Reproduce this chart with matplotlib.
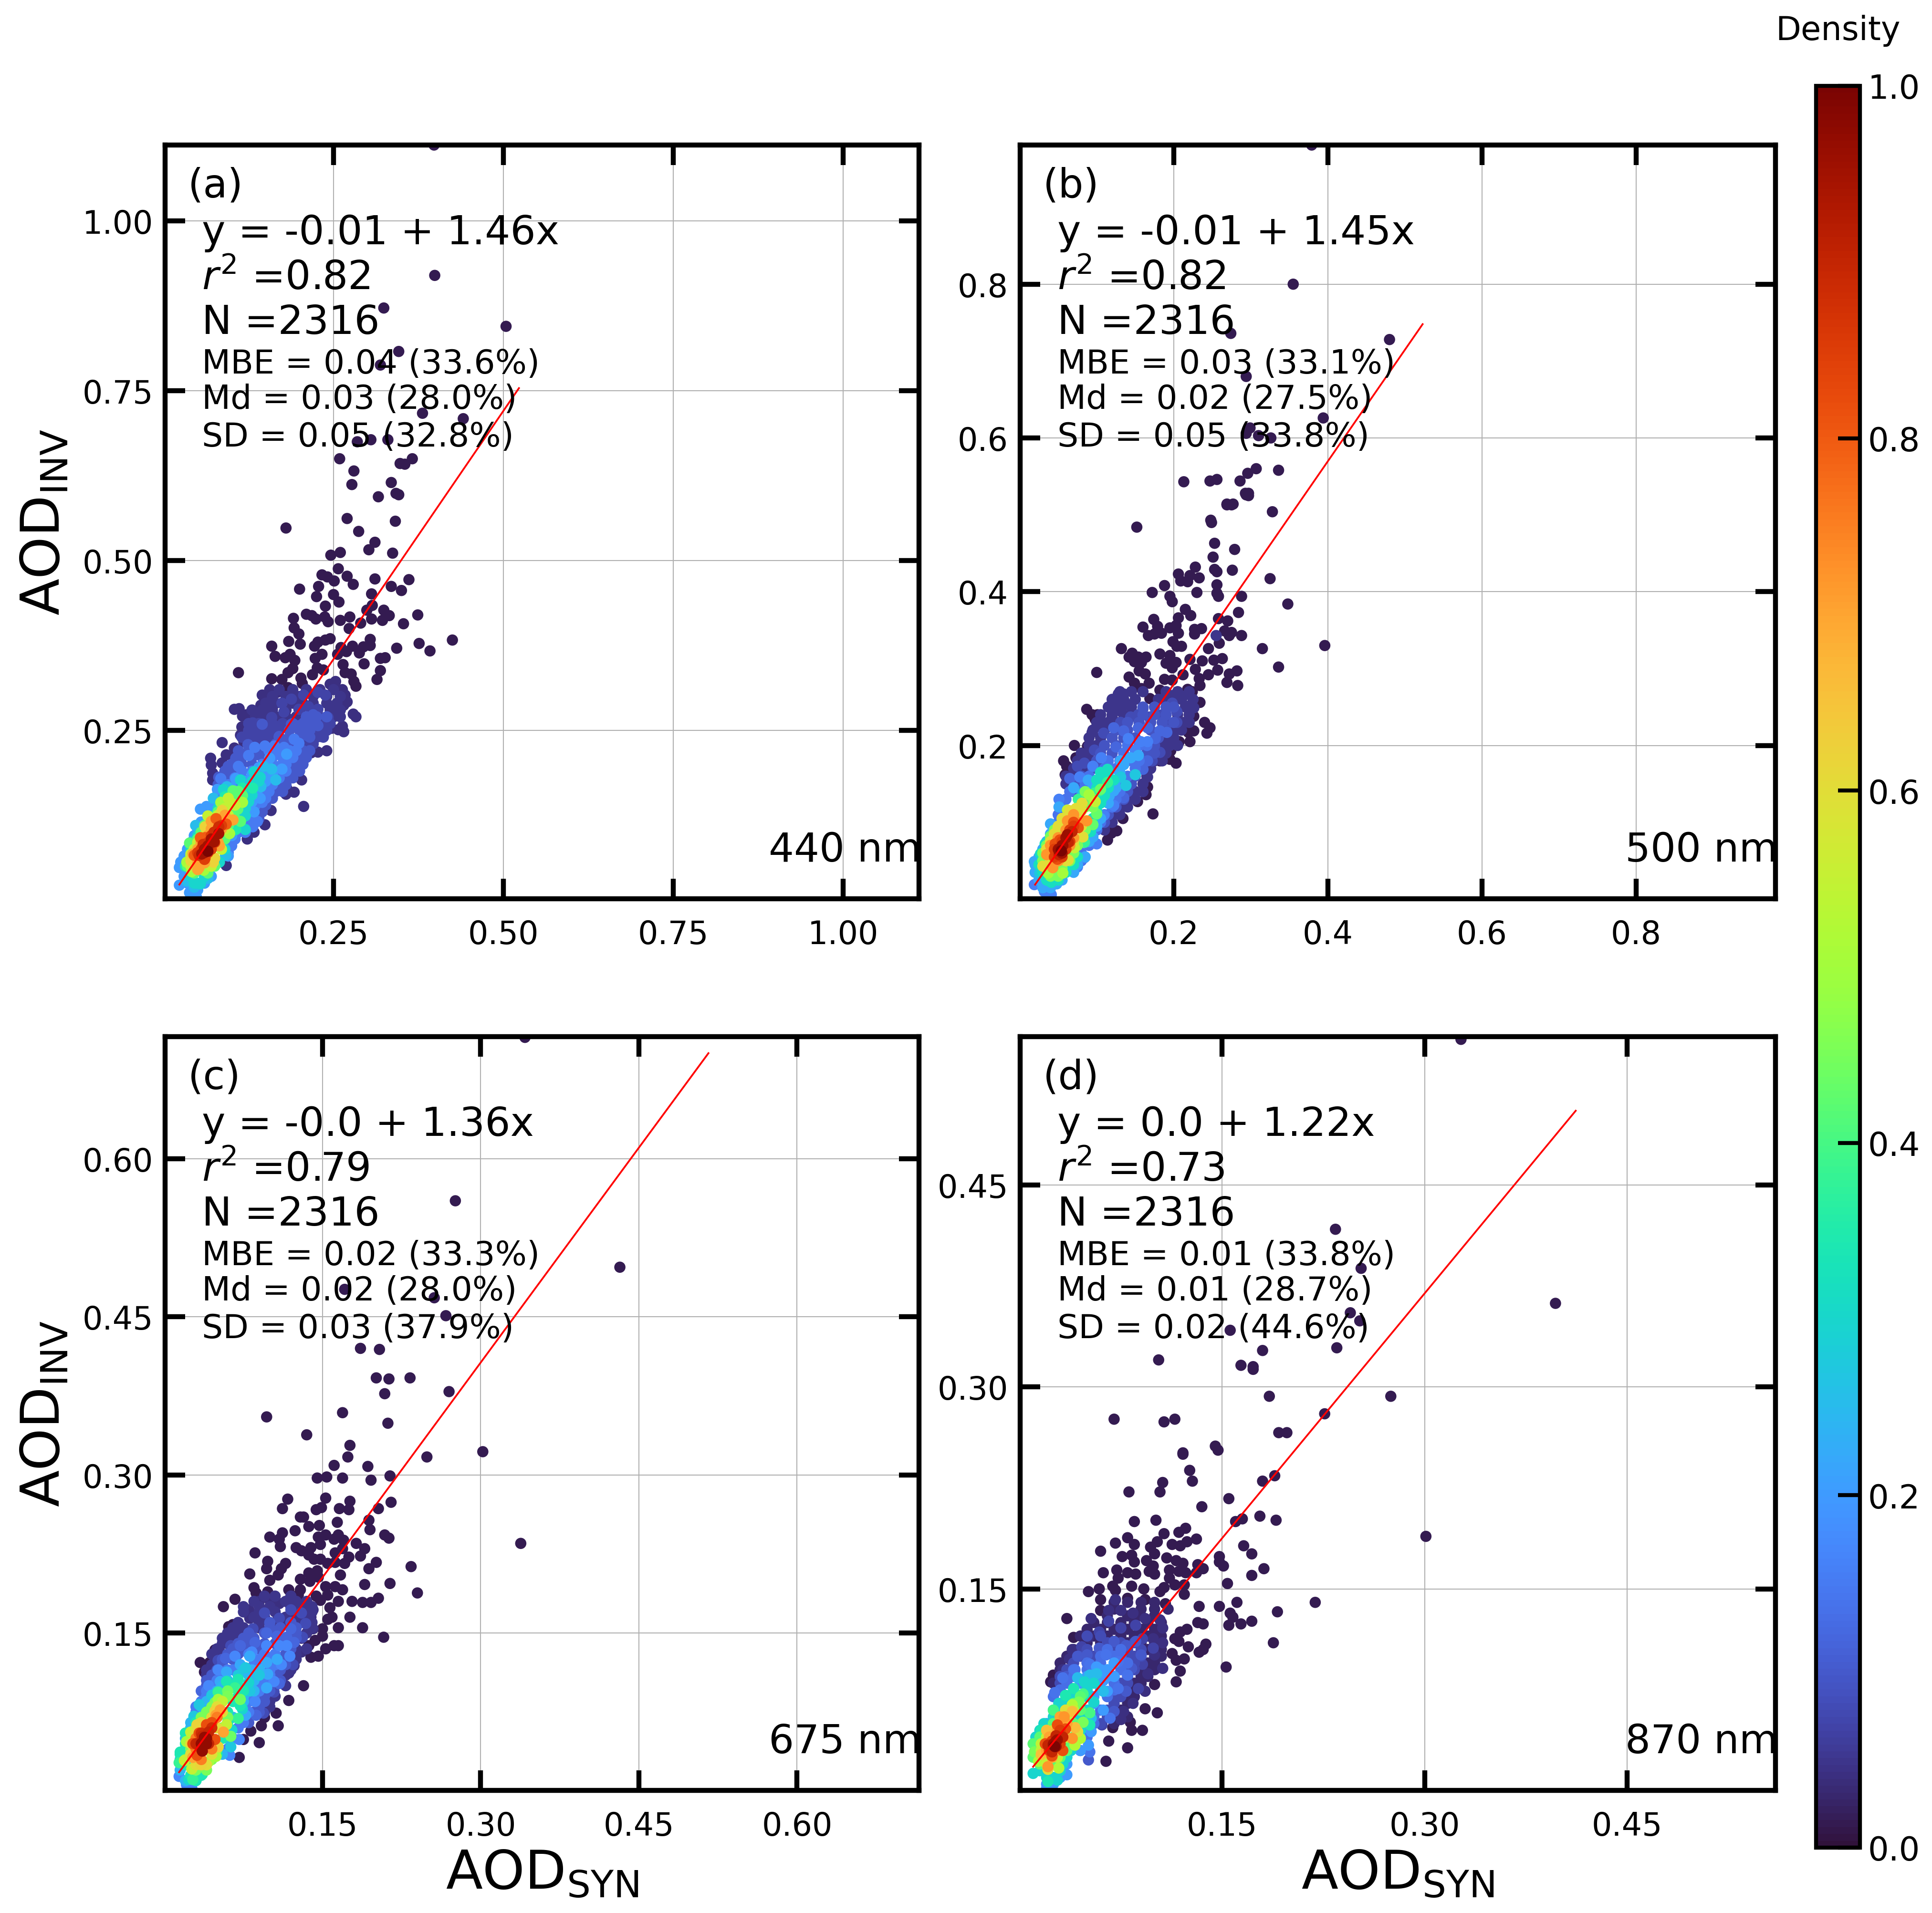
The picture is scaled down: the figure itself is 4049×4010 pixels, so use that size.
import matplotlib
matplotlib.use("Agg")
import matplotlib.pyplot as plt
from matplotlib.cm import ScalarMappable
from matplotlib.colors import Normalize

# points, grouped by density colour (low to high)
a_levels = [0.015, 0.04, 0.07, 0.1, 0.15, 0.2, 0.25, 0.3, 0.35, 0.42, 0.5, 0.55, 0.62, 0.7, 0.8, 0.88, 0.95, 1.0]
a_groups = [
    [(.398,1.112),(.399,.920),(.324,.872),(.504,.845),(.346,.808),(.319,.788),(.381,.717),(.441,.709),(.285,.675),(.305,.678),(.330,.678),
     (.259,.650),(.280,.632),(.348,.643),(.355,.642),(.366,.650),(.277,.612),(.335,.615),(.316,.594),(.342,.599),(.346,.597),(.270,.562),
     (.341,.558),(.287,.543),(.311,.527),(.302,.516),(.337,.511),(.180,.548),(.246,.508),(.260,.512),(.257,.488),(.233,.479),(.241,.476),
     (.251,.470),(.270,.477),(.279,.465),(.311,.473),(.361,.472),(.335,.462),(.350,.456),(.200,.458),(.228,.462),(.225,.447),(.250,.450),
     (.258,.439),(.238,.433),(.306,.451),(.307,.434),(.210,.421),(.218,.419),(.224,.414),(.191,.415),(.192,.401),(.237,.417),(.242,.410),
     (.260,.412),(.274,.417),(.324,.427),(.332,.419),(.322,.412),(.353,.407),(.374,.420),(.299,.427),(.306,.414),(.290,.408),(.273,.400),
     (.199,.392),(.184,.381),(.201,.377),(.159,.374),(.164,.359),(.245,.385),(.238,.383),(.227,.380),(.222,.374),(.425,.383),(.376,.378),
     (.392,.367),(.343,.371),(.304,.384),(.304,.375),(.294,.373),(.288,.364),(.278,.374),(.269,.366),(.261,.372),(.233,.362),(.223,.356),
     (.256,.362),(.186,.362),(.179,.357),(.193,.353),(.319,.356),(.326,.357),(.295,.348),(.264,.347),(.319,.338),(.314,.325),(.110,.335),
     (.190,.341),(.183,.335),(.159,.326),(.174,.325),(.202,.327),(.204,.319),(.226,.342),(.235,.339),(.219,.332),(.267,.335),(.276,.333),
     (.280,.322),(.283,.315),(.183,.313)],
    [(.156,.310),(.145,.302),(.167,.306),(.143,.287),(.156,.290),(.122,.273),(.116,.271),(.104,.281),(.111,.282),(.131,.269),(.142,.273),
     (.115,.255),(.113,.243),(.118,.233),(.086,.232),(.104,.224),(.092,.214),(.102,.213),(.069,.209),(.070,.199),(.086,.202),(.072,.187),
     (.072,.177),(.227,.218),(.240,.220),(.217,.217),(.231,.241),(.220,.234),(.247,.253),(.257,.251),(.265,.248),(.263,.256),(.279,.274),
     (.283,.270),(.270,.292),(.256,.285),(.265,.287),(.263,.310),(.267,.302),(.245,.318),(.253,.322),(.203,.177),(.193,.187),(.192,.159),
     (.181,.165),(.180,.156),(.206,.138),(.158,.132),(.149,.111),(.133,.100),(.123,.090),(.092,.051)],
    [(.174,.290),(.188,.296),(.206,.302),(.227,.306),(.238,.302),(.177,.277),(.159,.269),(.131,.261),(.152,.257),(.227,.281),(.242,.269),
     (.213,.285),(.231,.269),(.199,.281),(.210,.213),(.199,.205),(.224,.261),(.124,.245),(.135,.249),(.217,.237)],
    [(.220,.273),(.199,.257),(.188,.259),(.227,.257),(.206,.261),(.145,.259),(.170,.241),(.210,.243),(.124,.229),(.106,.209),(.095,.197),
     (.113,.197),(.188,.205),(.156,.169),(.163,.161),(.149,.140),(.081,.181)],
    [(.192,.237),(.177,.225),(.149,.227),(.134,.225),(.163,.227),(.199,.231),(.184,.213),(.170,.197),(.125,.213),(.110,.197),(.084,.179),
     (.145,.144),(.138,.116),(.131,.108),(.120,.100)],
    [(.181,.215),(.156,.209),(.174,.193),(.106,.179),(.079,.163),(.063,.138),(.054,.134),(.142,.150),(.133,.130),(.025,.056),(.023,.022),
     (.038,.011),(.048,.005),(.023,.048)],
    [(.159,.193),(.147,.197),(.143,.167),(.165,.177),(.091,.066),(.093,.167),(.073,.150),(.047,.110),(.034,.028),(.045,.019),(.065,.032)],
    [(.133,.189),(.142,.181),(.113,.177),(.088,.163),(.120,.124),(.120,.104),(.043,.086),(.082,.056),(.054,.024)],
    [(.131,.165),(.116,.165),(.090,.152),(.106,.104),(.032,.050)],
    [(.116,.154),(.102,.161),(.109,.134),(.113,.116),(.038,.084)],
    [(.116,.144),(.084,.144),(.097,.098),(.034,.056),(.041,.042),(.059,.044)],
    [(.098,.144),(.065,.124),(.040,.068)],
    [(.086,.132),(.061,.108),(.075,.062),(.073,.056),(.040,.058)],
    [(.102,.118),(.070,.116),(.052,.048),(.043,.068),(.082,.080)],
    [(.092,.112),(.077,.120),(.061,.092),(.054,.092),(.061,.062),(.045,.066)],
    [(.081,.108),(.074,.100),(.058,.082),(.068,.082),(.052,.066)],
    [(.081,.098),(.074,.086),(.064,.078),(.056,.068)],
    [(.065,.072)],
]
# the packed band, read row by row: (y, [x, ...]) per density colour
a_band_levels = [0.05, 0.07, 0.1, 0.15, 0.2, 0.3, 0.42, 0.55, 0.7, 0.85, 0.95]
a_band = [
    [(.31,[.17,.19,.21,.23,.25]),(.30,[.16,.18,.20,.22,.24,.26]),(.29,[.15,.165,.19,.205,.22,.24,.255]),
     (.28,[.13,.145,.16,.18,.20,.245,.26]),(.27,[.135,.15,.165,.18,.195,.21,.25,.26])],
    [(.26,[.125,.14,.16,.175,.235,.245]),(.25,[.125,.14,.155,.17,.23,.24]),(.24,[.115,.13,.145,.16,.225,.235]),(.23,[.125,.14,.155,.21,.22])],
    [(.27,[.21,.225,.24]),(.26,[.19,.215]),(.25,[.185,.2,.215]),(.24,[.17,.185,.2,.215]),(.23,[.165,.18,.195]),(.22,[.11,.125,.14,.205,.215]),
     (.21,[.115,.13,.145,.2,.21]),(.20,[.1,.115,.13,.195,.205]),(.19,[.09,.105,.19,.2]),(.18,[.085,.095,.185,.19]),(.17,[.08,.17,.18]),
     (.16,[.08,.165,.175]),(.15,[.15,.16]),(.14,[.14,.15]),(.13,[.135,.145]),(.12,[.13,.14])],
    [(.22,[.155,.17,.185,.195]),(.21,[.16,.175,.19]),(.20,[.145,.16,.18]),(.19,[.115,.13,.17,.18]),(.18,[.105,.115,.165,.17]),
     (.17,[.095,.105,.155,.16]),(.16,[.09,.15,.155]),(.15,[.085,.14,.15]),(.14,[.135]),(.13,[.125]),(.12,[.12,.13]),(.11,[.115,.125]),
     (.10,[.11,.12]),(.09,[.105]),(.08,[.10,.09]),(.07,[.095])],
    [(.195,[.14,.155]),(.185,[.13,.145,.16]),(.175,[.12,.15]),(.165,[.1,.14]),(.155,[.095,.135]),(.145,[.08,.13]),(.135,[.07,.125]),
     (.125,[.065,.115]),(.115,[.055,.11]),(.105,[.05,.105]),(.095,[.045,.1]),(.085,[.04]),(.075,[.035]),(.065,[.03,.095]),(.045,[.03]),
     (.035,[.03,.07]),(.025,[.035,.06]),(.015,[.05])],
    [(.175,[.13,.14]),(.165,[.125]),(.155,[.12,.13]),(.145,[.125]),(.135,[.08,.12]),(.125,[.075,.11]),(.115,[.065,.105]),(.105,[.06,.1]),
     (.095,[.05]),(.085,[.05]),(.075,[.04,.09]),(.055,[.035]),(.035,[.04,.06]),(.025,[.045,.05])],
    [(.16,[.105,.11]),(.15,[.095,.105]),(.14,[.09,.1]),(.13,[.08,.1]),(.12,[.07,.105]),(.11,[.06,.095]),(.10,[.055]),(.09,[.05,.09]),
     (.08,[.045]),(.05,[.035,.075]),(.04,[.045,.065])],
    [(.15,[.095]),(.14,[.105]),(.135,[.09]),(.125,[.08,.095]),(.115,[.07]),(.105,[.065,.09]),(.095,[.06]),(.085,[.05]),(.075,[.045,.085]),
     (.065,[.04]),(.05,[.07,.04])],
    [(.125,[.09]),(.115,[.08,.09]),(.105,[.07,.085]),(.095,[.065]),(.085,[.055,.08]),(.075,[.05]),(.065,[.055]),(.055,[.05,.06]),(.045,[.05])],
    [(.11,[.085]),(.105,[.08]),(.095,[.075,.07]),(.085,[.065,.075]),(.075,[.055,.07]),(.07,[.05,.065]),(.06,[.06])],
    [(.09,[.07]),(.08,[.065]),(.075,[.06]),(.07,[.06])],
]

b_levels = [0.015, 0.05, 0.08, 0.12, 0.16, 0.22, 0.27, 0.32, 0.38, 0.43, 0.5, 0.55, 0.6, 0.72, 0.82, 0.9, 0.96, 1.0]
b_groups = [
    [(.379,.981),(.355,.800),(.274,.736),(.480,.728),(.294,.680),(.394,.626),(.299,.613),(.294,.606),(.310,.603),(.326,.600),(.307,.560),
     (.336,.558),(.296,.554),(.256,.546),(.286,.544),(.277,.514),(.269,.514),(.248,.493),(.293,.528),(.294,.526),(.328,.504),
     (.213,.543),(.247,.544),(.297,.528),(.297,.525),(.269,.513),(.275,.513),(.249,.490),(.152,.484),(.253,.463),(.279,.455),(.251,.445),
     (.228,.432),(.253,.429),(.256,.426),(.276,.428),(.206,.423),(.325,.417),(.209,.414),(.221,.421),(.233,.418),(.218,.413),(.256,.409),
     (.188,.408),(.172,.399),(.230,.399),(.256,.398),(.258,.394),(.195,.394),(.198,.387),(.288,.394),(.348,.384),(.215,.377),(.222,.369),
     (.284,.373),(.206,.366),(.258,.365),(.270,.362),(.174,.364),(.160,.354),(.179,.355),(.195,.353),(.203,.356),(.206,.346),(.167,.343),
     (.184,.346),(.175,.345),(.227,.345),(.227,.351),(.236,.352),(.266,.349),(.275,.347),(.288,.343),(.272,.343),(.199,.335),(.210,.329),
     (.204,.329),(.259,.333),(.245,.326),(.396,.330),(.315,.326),(.132,.326),(.146,.320),(.142,.315),(.164,.315),(.182,.319),(.195,.317),
     (.154,.315),(.149,.309),(.158,.308),(.190,.307),(.203,.308),(.221,.312),(.237,.310),(.263,.313),(.252,.311),(.336,.302),(.257,.298),
     (.282,.297),(.228,.299),(.100,.295),(.155,.297),(.163,.293),(.198,.301),(.272,.293),(.269,.282),(.212,.292),(.245,.292),(.142,.289),
     (.188,.286),(.198,.285),(.233,.287),(.283,.278),(.234,.278),(.149,.281),(.168,.281),(.158,.274),(.182,.272),(.218,.273),(.224,.270),
     (.169,.261),(.234,.256),(.087,.247),(.101,.240),(.094,.240),(.098,.234),(.240,.230),(.247,.223),(.243,.216),(.226,.219),(.219,.217),
     (.226,.238),(.207,.205),(.221,.205),(.203,.177),(.195,.182),(.182,.180),(.196,.193),(.071,.200),(.088,.199),(.073,.184),(.057,.180),
     (.061,.173),(.059,.162),(.173,.111),(.134,.105),(.126,.089),(.119,.086),(.114,.077),(.164,.136),(.166,.146),(.153,.127)],
    [(.128,.267),(.135,.267),(.125,.258),(.142,.253),(.125,.248),(.132,.244),(.120,.237),(.111,.228),(.105,.224),(.094,.217),(.212,.264),
     (.199,.265),(.188,.262),(.217,.251),(.226,.249),(.214,.230),(.179,.184),(.166,.159),(.147,.141),(.131,.127),(.109,.095),(.255,.343)],
    [(.154,.240),(.160,.248),(.168,.237),(.144,.237),(.131,.230),(.109,.216),(.097,.194),(.185,.240),(.198,.255),(.204,.244),(.191,.230),
     (.204,.230),(.182,.191),(.172,.180),(.075,.173),(.084,.177)],
    [(.122,.223),(.135,.219),(.154,.223),(.166,.223),(.182,.219),(.191,.217),(.176,.209),(.125,.198),(.166,.180),(.160,.169),(.065,.157),
     (.135,.132),(.122,.123)],
    [(.141,.209),(.157,.205),(.166,.205),(.150,.194),(.106,.184),(.095,.173),(.078,.159),(.122,.122),(.109,.109),(.051,.130),(.100,.072),
     (.084,.054),(.075,.042),(.041,.006),(.032,.010),(.019,.019)],
    [(.154,.187),(.144,.184),(.131,.180),(.089,.155),(.070,.145),(.051,.120),(.040,.098),(.095,.081),(.116,.134),(.122,.141),(.019,.049),
     (.030,.020),(.048,.020)],
    [(.131,.159),(.150,.162),(.138,.148),(.082,.138),(.094,.098),(.026,.034),(.037,.024)],
    [(.114,.169),(.122,.155),(.106,.130),(.092,.088),(.033,.072),(.070,.045),(.041,.022),(.027,.059)],
    [(.114,.152),(.097,.138),(.103,.141),(.076,.130),(.084,.074)],
    [(.105,.143),(.100,.111),(.095,.097),(.040,.082)],
    [(.090,.136),(.049,.091),(.056,.034),(.037,.034)],
    [(.062,.116),(.098,.127),(.071,.067)],
    [(.081,.125),(.073,.118),(.082,.081),(.030,.043),(.063,.051)],
    [(.062,.102),(.087,.102),(.043,.041),(.035,.058)],
    [(.076,.093),(.070,.100),(.052,.077),(.046,.072),(.049,.052)],
    [(.068,.088),(.051,.058),(.063,.074)],
    [(.062,.084),(.056,.070),(.051,.063)],
    [(.054,.063)],
]
b_band_levels = [0.05, 0.09, 0.14, 0.22, 0.32, 0.45, 0.6, 0.72, 0.85, 0.95]
b_band = [
    [(.27,[.13,.145,.16,.19,.205,.22]),(.26,[.12,.135,.15,.18,.195,.21,.225]),(.25,[.115,.13,.145,.215,.225]),(.24,[.105,.12,.135,.15,.205,.22]),
     (.23,[.1,.115,.13,.21,.22]),(.22,[.095,.11,.2,.21]),(.21,[.09,.105,.19,.2]),(.2,[.09,.1,.185,.195,.205]),(.19,[.08,.09,.18,.19]),
     (.18,[.075,.09,.175,.185]),(.17,[.07,.085,.17]),(.16,[.06,.07,.165]),(.15,[.06,.16]),(.14,[.15,.16]),(.13,[.14,.15]),(.12,[.13,.14]),
     (.11,[.12,.13]),(.10,[.115,.12]),(.09,[.11])],
    [(.25,[.16,.175,.19,.2]),(.24,[.16,.175,.19]),(.23,[.14,.155,.17,.185,.2]),(.22,[.125,.14,.17,.19]),(.21,[.12,.135,.15,.18]),
     (.2,[.11,.125,.175]),(.19,[.105,.12,.165,.175]),(.18,[.1,.16]),(.17,[.095,.105,.155]),(.16,[.08,.15]),(.15,[.075,.145]),(.14,[.07,.14]),
     (.13,[.135]),(.12,[.125]),(.11,[.115]),(.10,[.11])],
    [(.2,[.14,.155,.165]),(.19,[.135,.15]),(.18,[.115,.13,.145,.155]),(.17,[.11,.125,.15]),(.16,[.09,.14]),(.15,[.085,.135]),(.14,[.065,.08,.13]),
     (.13,[.06,.125]),(.12,[.055,.12]),(.11,[.05,.11]),(.10,[.05,.105]),(.09,[.1]),(.08,[.09]),(.07,[.09]),(.06,[.08]),(.05,[.08])],
    [(.175,[.135]),(.165,[.115,.13]),(.155,[.105,.125]),(.145,[.095,.125]),(.135,[.09]),(.125,[.115]),(.115,[.065]),(.105,[.055,.105]),
     (.095,[.045,.1]),(.085,[.04]),(.075,[.035,.09]),(.065,[.03]),(.055,[.025,.085]),(.045,[.02,.075]),(.035,[.02,.07]),(.025,[.025,.055]),
     (.015,[.03,.04])],
    [(.165,[.105,.11]),(.155,[.1,.11]),(.145,[.1,.115]),(.135,[.09,.11]),(.125,[.09,.105]),(.115,[.075,.1]),(.105,[.07,.095]),(.095,[.06,.09]),
     (.085,[.05,.085]),(.075,[.04,.08]),(.055,[.03,.075]),(.045,[.025,.065]),(.035,[.03,.06]),(.025,[.035,.05])],
    [(.14,[.085]),(.13,[.095]),(.12,[.085,.095]),(.11,[.075]),(.1,[.06,.08]),(.09,[.045,.085]),(.08,[.04]),(.07,[.035,.075]),(.06,[.03,.07]),
     (.05,[.03,.065]),(.04,[.035,.055]),(.03,[.04,.05])],
    [(.115,[.065,.08]),(.105,[.055,.075]),(.095,[.05,.08]),(.085,[.045]),(.075,[.04,.07]),(.065,[.035]),(.05,[.04,.06])],
    [(.11,[.07]),(.1,[.065,.075]),(.09,[.06]),(.08,[.05,.07]),(.07,[.04,.065]),(.06,[.04]),(.05,[.05])],
    [(.095,[.07]),(.09,[.065]),(.08,[.06]),(.075,[.055,.065]),(.065,[.045,.06]),(.055,[.045,.055])],
    [(.08,[.06]),(.07,[.055]),(.065,[.05]),(.06,[.055])],
]

c_levels = [0.015, 0.04, 0.08, 0.12, 0.17, 0.22, 0.27, 0.3, 0.34, 0.38, 0.44, 0.5, 0.55, 0.62, 0.7, 0.82, 0.9, 0.97]
c_groups = [
    [(.342,.715),(.276,.560),(.432,.497),(.171,.476),(.256,.468),(.267,.451),(.186,.420),(.204,.419),(.213,.391),(.201,.392),(.233,.392),
     (.209,.377),(.270,.379),(.097,.355),(.169,.359),(.212,.349),(.135,.338),(.176,.328),(.302,.322),(.174,.317),(.249,.317),(.161,.309),
     (.193,.308),(.145,.297),(.154,.298),(.169,.297),(.196,.295),(.214,.299),(.117,.277),(.153,.278),(.112,.268),(.149,.269),(.144,.267),
     (.166,.268),(.176,.275),(.175,.267),(.203,.268),(.215,.274),(.129,.260),(.132,.260),(.194,.257),(.137,.251),(.147,.252),(.164,.255),
     (.195,.248),(.124,.247),(.112,.245),(.153,.243),(.100,.241),(.109,.239),(.146,.241),(.165,.243),(.161,.239),(.170,.238),(.209,.243),
     (.213,.240),(.182,.235),(.338,.235),(.110,.232),(.148,.234),(.125,.231),(.130,.228),(.139,.231),(.190,.230),(.169,.230),(.162,.226),
     (.086,.226),(.186,.223),(.175,.222),(.137,.224),(.142,.220),(.148,.220),(.098,.218),(.097,.211),(.115,.216),(.111,.211),(.201,.217),
     (.155,.216),(.162,.217),(.171,.216),(.194,.211),(.234,.213),(.081,.206),(.108,.205),(.137,.207),(.145,.209),(.167,.205),(.100,.200),
     (.129,.201),(.138,.199),(.146,.203),(.214,.197),(.190,.196),(.085,.193),(.118,.191),(.129,.191),(.153,.194),(.162,.194),(.169,.191),
     (.240,.188),(.087,.188),(.098,.189),(.127,.186),(.144,.185),(.155,.186),(.165,.180),(.203,.183),(.067,.182),(.056,.175),(.148,.181),
     (.178,.180),(.188,.179),(.196,.179),(.157,.174),(.159,.165),(.155,.163),(.176,.165),(.165,.155),(.188,.155),(.150,.154),(.208,.146),
     (.150,.147),(.143,.143),(.137,.138),(.153,.135),(.161,.138),(.165,.138),(.146,.128),(.139,.127),(.065,.158),(.061,.156),(.048,.134),
     (.034,.122),(.038,.113),(.043,.122),(.132,.100),(.118,.086),(.106,.074),(.095,.070),(.108,.062),(.092,.062),(.082,.057),(.090,.046),
     (.071,.032),(.075,.049)],
    [(.090,.180),(.100,.181),(.109,.178),(.080,.172),(.081,.164),(.123,.177),(.134,.177),(.141,.172),(.139,.165),(.056,.145),(.065,.147),
     (.141,.154),(.130,.132),(.123,.119),(.118,.112)],
    [(.095,.169),(.109,.164),(.120,.172),(.130,.169),(.134,.159),(.084,.154),(.100,.159),(.063,.138),(.051,.124),(.131,.146),(.122,.120),
     (.104,.094),(.094,.074)],
    [(.120,.154),(.116,.146),(.107,.147),(.097,.150),(.086,.141),(.072,.138),(.123,.141),(.058,.126),(.109,.102),(.087,.072),(.035,.095)],
    [(.097,.138),(.109,.138),(.116,.138),(.083,.132),(.067,.128),(.119,.128),(.111,.120),(.051,.115),(.042,.100),(.104,.104),(.086,.085),
     (.071,.049),(.062,.034),(.026,.003),(.021,.006),(.014,.014)],
    [(.081,.128),(.097,.122),(.107,.125),(.072,.120),(.059,.113),(.083,.115),(.098,.111),(.053,.104),(.097,.098),(.077,.072)],
    [(.077,.117),(.090,.110),(.070,.110),(.045,.091),(.081,.095),(.033,.082),(.028,.071),(.063,.042)],
    [(.080,.103),(.074,.078),(.064,.058),(.023,.011)],
    [(.070,.106),(.059,.104),(.072,.081),(.015,.037),(.020,.055),(.036,.016)],
    [(.067,.098),(.051,.094),(.070,.069),(.014,.027),(.027,.011)],
    [(.060,.095),(.072,.087),(.063,.052),(.048,.084)],
    [(.051,.087),(.021,.047),(.042,.028),(.049,.033)],
    [(.055,.085),(.025,.056),(.019,.029),(.059,.063),(.026,.021)],
    [(.031,.063),(.048,.076),(.035,.025),(.051,.042)],
    [(.056,.056),(.053,.077),(.049,.072),(.027,.032),(.040,.052)],
    [(.045,.065),(.040,.063),(.031,.034),(.048,.049),(.033,.055),(.027,.045)],
    [(.042,.056),(.036,.052),(.030,.045),(.042,.045)],
    [(.036,.046),(.038,.051),(.036,.038)],
]
c_band_levels = [0.05, 0.1, 0.15, 0.24, 0.34, 0.45, 0.6, 0.75, 0.88, 0.97]
c_band = [
    [(.185,[.095,.105,.12]),(.18,[.085,.115,.125,.135]),(.175,[.075,.09,.1,.12,.13,.14]),(.17,[.075,.09,.105,.125,.135,.14]),
     (.165,[.085,.095,.115,.125,.135]),(.16,[.07,.09,.105,.115,.13,.14]),(.155,[.065,.075,.09,.14]),(.15,[.06,.07,.135]),(.145,[.055,.065,.13]),
     (.14,[.055,.06]),(.135,[.05,.135,.125]),(.13,[.045,.055,.125]),(.125,[.05,.125]),(.12,[.045,.12,.115]),(.115,[.04,.12]),(.11,[.04,.115]),
     (.105,[.11]),(.10,[.115,.105]),(.09,[.105,.1]),(.085,[.1]),(.08,[.1]),(.075,[.095])],
    [(.16,[.1,.12]),(.155,[.1,.11,.125]),(.15,[.08,.095,.105,.125]),(.145,[.075,.085,.115,.125]),(.14,[.07,.08,.095,.105,.115]),
     (.135,[.065,.075,.09,.12]),(.13,[.06,.07,.115]),(.125,[.055,.065,.11]),(.12,[.055,.115]),(.115,[.05,.11]),(.11,[.045,.105]),(.105,[.04,.11]),
     (.10,[.04,.1]),(.095,[.1,.04]),(.09,[.095]),(.085,[.095]),(.08,[.09]),(.075,[.085,.09]),(.07,[.08]),(.065,[.08])],
    [(.13,[.08,.095,.105]),(.125,[.09,.1]),(.12,[.085,.105]),(.115,[.06,.065,.1]),(.11,[.055,.1]),(.105,[.05,.095]),(.10,[.045,.09]),(.095,[.04,.09]),
     (.09,[.04,.085]),(.085,[.035,.08]),(.08,[.03]),(.075,[.03,.08]),(.065,[.075]),(.06,[.07]),(.05,[.065]),(.04,[.06])],
    [(.115,[.075,.09]),(.11,[.08,.085]),(.105,[.06,.085]),(.1,[.055,.08]),(.095,[.05,.085]),(.09,[.045,.075]),(.085,[.04,.075]),(.08,[.035]),
     (.07,[.03,.065]),(.065,[.025]),(.06,[.025]),(.05,[.02,.06]),(.04,[.02]),(.035,[.055]),(.03,[.015]),(.02,[.015]),(.01,[.02,.03])],
    [(.1,[.065,.07]),(.095,[.06,.075]),(.09,[.055,.07]),(.085,[.05,.065]),(.075,[.06,.04]),(.07,[.035]),(.065,[.03,.06]),(.055,[.02]),(.05,[.055]),
     (.045,[.02]),(.035,[.015,.05]),(.025,[.02]),(.015,[.025,.035]),(.01,[.03])],
    [(.09,[.06]),(.08,[.045]),(.075,[.04]),(.07,[.035,.06]),(.06,[.03,.055]),(.05,[.025]),(.04,[.025,.05]),(.03,[.02,.045]),(.02,[.03,.04])],
    [(.08,[.05]),(.075,[.055]),(.07,[.045]),(.065,[.035]),(.06,[.05]),(.055,[.03]),(.045,[.025]),(.035,[.025,.045]),(.025,[.03,.04])],
    [(.07,[.05]),(.065,[.045]),(.06,[.04]),(.05,[.03]),(.04,[.03,.045]),(.03,[.035])],
    [(.06,[.045]),(.055,[.035]),(.05,[.04]),(.045,[.035,.04]),(.04,[.035])],
    [(.05,[.04]),(.045,[.035,.04])],
]

d_levels = [0.015, 0.04, 0.07, 0.1, 0.14, 0.2, 0.25, 0.3, 0.34, 0.4, 0.45, 0.52, 0.6, 0.66, 0.72, 0.82, 0.9, 0.96, 1.0]
d_groups = [
    [(.327,.558),(.234,.417),(.253,.388),(.397,.362),(.301,.189),
     (.156,.342),(.245,.355),(.252,.349),(.180,.327),(.235,.329),(.103,.320),(.164,.316),(.173,.315),(.173,.313),(.185,.293),(.275,.293),
     (.070,.276),(.107,.274),(.115,.276),(.226,.280),(.192,.266),(.198,.266),(.145,.256),(.147,.253),(.121,.251),(.121,.250),(.126,.238),
     (.106,.229),(.128,.230),(.189,.234),(.180,.230),(.081,.222),(.104,.222),(.155,.217),(.135,.211),(.085,.200),(.101,.201),(.160,.200),
     (.165,.202),(.178,.204),(.190,.201),(.123,.195),(.107,.191),(.118,.192),(.131,.187),(.080,.188),(.071,.184),(.060,.178),(.085,.183),
     (.102,.185),(.097,.181),(.113,.183),(.119,.182),(.124,.185),(.166,.182),(.100,.176),(.172,.176),(.076,.174),(.083,.175),(.085,.170),
     (.094,.171),(.109,.173),(.116,.171),(.148,.174),(.148,.170),(.151,.167),(.181,.165),(.121,.169),(.132,.168),(.136,.165),(.099,.167),
     (.072,.164),(.062,.162),(.096,.163),(.100,.161),(.111,.164),(.118,.163),(.123,.162),(.131,.162),(.080,.162),(.086,.161),(.172,.160),
     (.073,.158),(.111,.158),(.154,.154),(.069,.152),(.083,.152),(.092,.150),(.107,.151),(.115,.153),(.122,.153),(.051,.148),(.059,.150),
     (.071,.149),(.104,.148),(.122,.146),(.060,.142),(.080,.143),(.093,.142),(.108,.139),(.133,.137),(.148,.137),(.161,.140),(.219,.140),
     (.191,.133),(.156,.132),(.158,.129),(.060,.134),(.035,.128),(.172,.126),(.164,.124),(.155,.123),(.132,.125),(.136,.124),(.188,.110),
     (.124,.120),(.119,.118),(.115,.113),(.118,.111),(.138,.109),(.125,.107),(.133,.103),(.136,.105),(.113,.102),(.122,.098),(.116,.097),
     (.153,.092),(.119,.089),(.116,.081),(.100,.079),(.093,.061),(.102,.058),(.082,.051),(.083,.045),(.091,.045),(.069,.047),(.080,.032),
     (.064,.022),(.066,.037),(.040,.114),(.025,.086),(.023,.081)],
    [(.071,.142),(.066,.134),(.075,.134),(.084,.132),(.093,.128),(.104,.127),(.106,.121),(.106,.110),(.053,.128),(.051,.114),(.099,.113),
     (.100,.101),(.106,.091),(.095,.087),(.093,.074),(.084,.065),(.077,.059),(.075,.053),(.039,.105),(.037,.098),(.032,.090)],
    [(.066,.126),(.075,.121),(.086,.123),(.059,.118),(.091,.113),(.099,.106),(.091,.094),(.088,.076),(.046,.107),(.061,.049)],
    [(.070,.111),(.079,.108),(.086,.111),(.059,.106),(.050,.101),(.043,.100),(.090,.101),(.083,.091),(.035,.085),(.079,.074),(.070,.059),
     (.051,.023)],
    [(.064,.101),(.073,.096),(.052,.094),(.041,.090),(.032,.084),(.026,.073),(.080,.086),(.073,.076),(.067,.054),(.052,.029)],
    [(.057,.092),(.070,.085),(.062,.082),(.065,.074),(.062,.060),(.053,.044),(.051,.034),(.035,.012),(.020,.002)],
    [(.057,.087),(.052,.086),(.043,.084),(.062,.074),(.053,.054)],
    [(.048,.081),(.029,.065),(.055,.066),(.010,.013),(.028,.008)],
    [(.040,.076),(.034,.071),(.052,.049),(.016,.045),(.021,.007)],
    [(.047,.072),(.025,.060),(.052,.058),(.013,.034)],
    [(.044,.066),(.011,.029),(.047,.051)],
    [(.039,.064),(.045,.039),(.041,.034),(.029,.017),(.014,.022)],
    [(.034,.060),(.043,.044),(.021,.016)],
    [(.039,.059),(.020,.045),(.041,.047),(.016,.027)],
    [(.033,.055),(.021,.018),(.039,.039)],
    [(.028,.049),(.034,.046),(.019,.035),(.032,.030),(.024,.026)],
    [(.027,.041),(.032,.040),(.021,.034),(.024,.029)],
    [(.027,.037),(.025,.034)],
    [(.026,.033)],
]
d_band_levels = [0.03, 0.08, 0.13, 0.2, 0.3, 0.42, 0.55, 0.7, 0.85, 0.95]
d_band = [
    [(.14,[.07,.08,.09,.1]),(.135,[.07,.09,.1,.11]),(.13,[.065,.08,.09,.1]),(.125,[.055,.065,.075,.085,.095,.105]),(.12,[.05,.06,.07,.08,.09,.1]),
     (.115,[.045,.055,.065,.075,.085,.095,.105]),(.11,[.05,.06,.08,.09,.1]),(.105,[.04,.045,.105,.095]),(.10,[.035,.1,.105]),(.095,[.03,.095,.1]),
     (.09,[.03,.09,.1]),(.085,[.09,.095]),(.08,[.025,.085,.09]),(.075,[.085]),(.07,[.08,.085]),(.065,[.08]),(.06,[.075]),(.055,[.07,.08]),(.05,[.07])],
    [(.115,[.05,.06]),(.11,[.065,.07,.075,.085]),(.105,[.05,.06,.07,.08,.09]),(.10,[.045,.055,.08,.085,.09]),(.095,[.04,.05,.085]),(.09,[.035,.08,.085]),
     (.085,[.03,.08]),(.08,[.03,.075,.08]),(.075,[.03,.075]),(.07,[.07,.075]),(.065,[.07]),(.06,[.065]),(.055,[.065]),(.05,[.06])],
    [(.105,[.065,.075]),(.10,[.06,.07,.075]),(.095,[.05,.06,.08]),(.09,[.04,.05,.075]),(.085,[.04,.07]),(.08,[.07,.035]),(.075,[.03,.07]),
     (.07,[.025,.065]),(.06,[.06]),(.055,[.055]),(.05,[.055]),(.045,[.05]),(.04,[.05]),(.03,[.045])],
    [(.095,[.07]),(.09,[.06,.065]),(.085,[.05,.065]),(.08,[.045,.06]),(.075,[.04,.06]),(.07,[.035,.055]),(.065,[.03,.055]),(.06,[.025]),(.05,[.02,.05]),
     (.04,[.045]),(.03,[.045]),(.02,[.035]),(.01,[.03]),(.005,[.02,.025])],
    [(.08,[.055]),(.075,[.05]),(.07,[.04,.05]),(.065,[.035]),(.06,[.03,.05]),(.055,[.025,.045]),(.05,[.018]),(.045,[.015,.045]),(.04,[.012]),(.035,[.04]),
     (.03,[.038]),(.025,[.035]),(.02,[.032]),(.015,[.015,.03]),(.01,[.02,.025])],
    [(.07,[.045]),(.065,[.04]),(.06,[.035,.045]),(.055,[.03]),(.05,[.025,.04]),(.045,[.02]),(.04,[.015,.04]),(.035,[.01,.035]),(.03,[.012,.035]),
     (.025,[.01,.03]),(.02,[.015,.025])],
    [(.06,[.04]),(.055,[.035]),(.05,[.03]),(.045,[.025]),(.04,[.02,.035]),(.035,[.016]),(.03,[.016,.032]),(.025,[.02,.028]),(.02,[.02])],
    [(.055,[.03]),(.05,[.035]),(.045,[.028,.032]),(.04,[.022,.032]),(.035,[.02]),(.03,[.02,.028]),(.025,[.024])],
    [(.045,[.03]),(.04,[.028]),(.037,[.024]),(.035,[.03]),(.03,[.022])],
    [(.038,[.028]),(.035,[.025]),(.033,[.027])],
]

# fit lines, ends
a_line = ([.023, .523], [.023, .754])
b_line = ([.020, .523], [.019, .748])
c_line = ([.014, .516], [.018, .700])
d_line = ([.010, .412], [.018, .505])

panels = ["(a)", "(b)", "(c)", "(d)"]
wavelengths = ["440 nm", "500 nm", "675 nm", "870 nm"]
limits = [(.002, 1.112), (.0006, .981), (.0007, .7157), (.0004, .560)]
ticks = [[.25, .50, .75, 1.00], [.2, .4, .6, .8], [.15, .30, .45, .60], [.15, .30, .45]]
tick_fmt = ["%.2f", "%.1f", "%.2f", "%.2f"]
fit_text = ["y = -0.01 + 1.46x", "y = -0.01 + 1.45x", "y = -0.0 + 1.36x", "y = 0.0 + 1.22x"]
r2_text = ["0.82", "0.82", "0.79", "0.73"]
n_text = ["2316", "2316", "2316", "2316"]
mbe_text = ["0.04 (33.6%)", "0.03 (33.1%)", "0.02 (33.3%)", "0.01 (33.8%)"]
md_text = ["0.03 (28.0%)", "0.02 (27.5%)", "0.02 (28.0%)", "0.01 (28.7%)"]
sd_text = ["0.05 (32.8%)", "0.05 (33.8%)", "0.03 (37.9%)", "0.02 (44.6%)"]

W, H = 4049, 4011
fig = plt.figure(figsize=(W / 300, H / 300), dpi=300)

def box(left, top, right, bottom):
    return [left / W, 1 - bottom / H, (right - left) / W, (bottom - top) / H]

boxes = [box(346, 305, 1926, 1885), box(2138, 305, 3721, 1885),
         box(346, 2174, 1926, 3754), box(2138, 2174, 3721, 3754)]
all_levels = [a_levels, b_levels, c_levels, d_levels]
all_groups = [a_groups, b_groups, c_groups, d_groups]
all_band_levels = [a_band_levels, b_band_levels, c_band_levels, d_band_levels]
all_bands = [a_band, b_band, c_band, d_band]
all_lines = [a_line, b_line, c_line, d_line]

for i in range(4):
    ax = fig.add_axes(boxes[i])
    pts = []
    for lev, grp in zip(all_levels[i], all_groups[i]):
        for px, py in grp:
            pts.append((lev, px, py))
    for lev, rows in zip(all_band_levels[i], all_bands[i]):
        for py, row in rows:
            for px in row:
                pts.append((lev, px, py))
    pts.sort()
    ds = [p[0] for p in pts]
    xs = [p[1] for p in pts]
    ys = [p[2] for p in pts]
    ax.scatter(xs, ys, c=ds, cmap="turbo", vmin=0, vmax=1, s=32, linewidths=0, zorder=2)
    ax.plot(all_lines[i][0], all_lines[i][1], color="red", lw=0.9, zorder=3)
    ax.set_xlim(limits[i])
    ax.set_ylim(limits[i])
    ax.set_xticks(ticks[i])
    ax.set_yticks(ticks[i])
    ax.set_xticklabels([tick_fmt[i] % t for t in ticks[i]])
    ax.set_yticklabels([tick_fmt[i] % t for t in ticks[i]])
    ax.set_axisbelow(True)
    ax.grid(True, color="#b0b0b0", lw=0.5)
    ax.tick_params(direction="in", length=10, width=2.5, top=True, right=True, labelsize=16)
    ax.tick_params(axis="x", pad=10)
    ax.tick_params(axis="y", pad=6)
    for s in ax.spines.values():
        s.set_linewidth(2.5)

    ax.text(.03, .946, panels[i], transform=ax.transAxes, fontsize=20, va="center")
    ax.text(.049, .884, fit_text[i], transform=ax.transAxes, fontsize=20.1, va="center")
    ax.text(.049, .824, "$r^2$ =" + r2_text[i], transform=ax.transAxes, fontsize=20.1, va="center")
    ax.text(.049, .765, "N =" + n_text[i], transform=ax.transAxes, fontsize=20.1, va="center")
    ax.text(.049, .710, "MBE = " + mbe_text[i], transform=ax.transAxes, fontsize=16.75, va="center")
    ax.text(.049, .663, "Md = " + md_text[i], transform=ax.transAxes, fontsize=16.75, va="center")
    ax.text(.049, .613, "SD = " + sd_text[i], transform=ax.transAxes, fontsize=16.75, va="center")
    ax.text(1.003, .065, wavelengths[i], transform=ax.transAxes, fontsize=20, ha="right", va="center")

    if i in (0, 2):
        ax.set_ylabel(r"AOD$_{\mathrm{INV}}$", fontsize=27, labelpad=6)
    if i in (2, 3):
        ax.set_xlabel(r"AOD$_{\mathrm{SYN}}$", fontsize=27, labelpad=3)

cax = fig.add_axes(box(3806, 181, 3898, 3874))
cb = fig.colorbar(ScalarMappable(norm=Normalize(0, 1), cmap="turbo"), cax=cax)
cb.set_ticks([0, .2, .4, .6, .8, 1.0])
cb.ax.tick_params(direction="in", length=11, width=2, labelsize=16.5, pad=4)
cb.outline.set_linewidth(2)
fig.text(3852 / W, 1 - 64 / H, "Density", fontsize=16.5, ha="center", va="center")

fig.savefig("out.png", dpi=300)
